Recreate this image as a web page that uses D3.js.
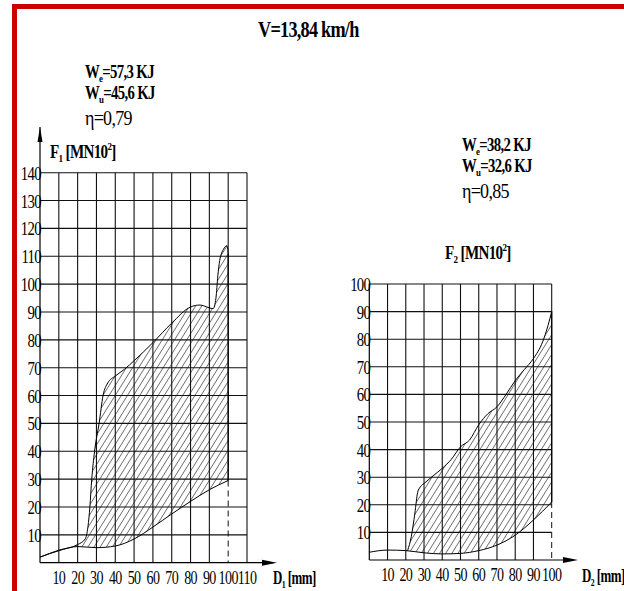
<!DOCTYPE html>
<html>
<head>
<meta charset="utf-8">
<script src="https://cdn.jsdelivr.net/npm/d3@7"></script>
<style>
  body { margin: 0; background: #fff; }
  svg { display: block; }
</style>
</head>
<body>
<div id="chart"></div>
<script>
// ticks
const xTicksL = [10, 20, 30, 40, 50, 60, 70, 80, 90, 100, 110];
const yTicksL = [10, 20, 30, 40, 50, 60, 70, 80, 90, 100, 110, 120, 130, 140];
const xTicksR = [10, 20, 30, 40, 50, 60, 70, 80, 90, 100];
const yTicksR = [10, 20, 30, 40, 50, 60, 70, 80, 90, 100];

// curves F1 (loading / unloading), [D mm, F]
const upperL = [[0, 2], [10, 4.5], [20, 6.5], [24, 8.5], [25.5, 13], [26.5, 20], [27.5, 30], [29, 40],
  [31.4, 50], [33.5, 60], [36, 64.5], [40, 67], [45, 69.5], [50, 72.5], [60, 79], [70, 86], [80, 91.8],
  [85, 92.5], [92, 91.2], [93.5, 95], [94.5, 103], [95.5, 108.5], [97.5, 112.5], [99.3, 113.8], [100, 111]];
const lowerL = [[0, 2], [10, 4.3], [20, 5.8], [30, 5.4], [40, 6], [50, 8.5], [60, 12.8], [70, 17.5],
  [80, 22], [90, 26.2], [100, 29.5]];

// curves F2
const upperR = [[21, 3.4], [23, 8.4], [25, 17], [26.5, 24.5], [28, 26.5], [30.5, 28], [35, 30.5], [40, 33.2],
  [45, 36.5], [50, 41], [55, 43.5], [60, 49], [65, 53], [70, 55.5], [75, 60], [80, 65], [85, 69],
  [90, 73], [95, 79], [98, 85], [100, 90]];
const lowerR = [[0, 2.8], [10, 3.6], [20, 3.4], [30, 2.6], [40, 2.2], [50, 2.4], [60, 3.4], [70, 5.4],
  [80, 9], [90, 14.5], [100, 21]];

const width = 624, height = 591;
const svg = d3.select('#chart').append('svg')
  .attr('width', width)
  .attr('height', height);

const defs = svg.append('defs');
defs.append('pattern')
  .attr('id', 'hatch')
  .attr('patternUnits', 'userSpaceOnUse')
  .attr('width', 5.2).attr('height', 10)
  .attr('patternTransform', 'rotate(32)')
  .append('line')
  .attr('x1', 0).attr('y1', 0).attr('x2', 0).attr('y2', 10)
  .attr('stroke', '#000').attr('stroke-width', 1);

// red frame (only top + left visible)
svg.append('rect')
  .attr('x', 14.5).attr('y', 6.5)
  .attr('width', 700).attr('height', 700)
  .attr('fill', 'none').attr('stroke', '#cc0000').attr('stroke-width', 5);

const FONT = "'Liberation Serif', 'Times New Roman', serif";

function label(x, y, parts, opt) {
  opt = opt || {};
  const size = opt.size || 16;
  const t = svg.append('text')
    .attr('transform', `translate(${x},${y}) scale(${opt.sx || 0.75},1)`)
    .attr('font-family', FONT)
    .attr('font-size', size)
    .attr('font-weight', opt.bold ? 'bold' : 'normal')
    .attr('text-anchor', opt.anchor || 'start')
    .attr('letter-spacing', opt.ls || 0)
    .attr('fill', '#000');
  let dy = 0;
  parts.forEach(p => {
    if (typeof p === 'string') p = { t: p };
    const shift = p.sub ? size * 0.2 : p.sup ? -size * 0.42 : 0;
    t.append('tspan')
      .attr('dy', shift - dy)
      .attr('font-size', p.sub || p.sup ? size * 0.6 : null)
      .text(p.t);
    dy = shift;
  });
  return t;
}

function arrow(pts) {
  svg.append('path')
    .attr('d', 'M' + pts.map(p => p.join(',')).join('L') + 'Z')
    .attr('fill', '#000');
}

function drawChart(opt) {
  const { x, y, xTicks, yTicks, upper, lower, id, xArrowEnd } = opt;
  const g = svg.append('g');
  const x0 = x(0), y0 = y(0);
  const yTop = y(yTicks[yTicks.length - 1]);
  const xEnd = x(xTicks[xTicks.length - 1]);
  const lastLow = lower[lower.length - 1];
  const lastUp = upper[upper.length - 1];

  // hatched area: under upper curve, clipped above lower curve
  const clip = defs.append('clipPath').attr('id', 'clip' + id);
  clip.append('path')
    .attr('d', d3.area().x(d => x(d[0])).y0(d => y(d[1])).y1(yTop - 50)
      .curve(d3.curveMonotoneX)(lower));
  g.append('path')
    .attr('d', d3.area().x(d => x(d[0])).y0(y0).y1(d => y(d[1]))
      .curve(d3.curveMonotoneX)(upper))
    .attr('fill', 'url(#hatch)')
    .attr('clip-path', `url(#clip${id})`);

  // grid
  g.selectAll('.hg').data(yTicks).enter().append('line')
    .attr('x1', x0).attr('x2', xEnd)
    .attr('y1', d => y(d)).attr('y2', d => y(d))
    .attr('stroke', '#111').attr('stroke-width', 1.1);
  g.selectAll('.vg').data(xTicks).enter().append('line')
    .attr('x1', d => x(d)).attr('x2', d => x(d))
    .attr('y1', yTop)
    .attr('y2', d => d === lastLow[0] ? y(lastLow[1]) : y0)
    .attr('stroke', '#111').attr('stroke-width', 1.1);
  // dashed drop line
  g.append('line')
    .attr('x1', x(lastLow[0])).attr('x2', x(lastLow[0]))
    .attr('y1', y(lastLow[1])).attr('y2', y0)
    .attr('stroke', '#111').attr('stroke-width', 1)
    .attr('stroke-dasharray', '6,4');

  // curves
  const line = d3.line().x(d => x(d[0])).y(d => y(d[1])).curve(d3.curveMonotoneX);
  [upper, lower].forEach(c => {
    g.append('path').attr('d', line(c))
      .attr('fill', 'none').attr('stroke', '#000').attr('stroke-width', 1);
  });
  g.append('line')
    .attr('x1', x(lastUp[0])).attr('x2', x(lastUp[0]))
    .attr('y1', y(lastUp[1])).attr('y2', y(lastLow[1]))
    .attr('stroke', '#000').attr('stroke-width', 1.2);

  // axes
  g.append('line').attr('x1', x0).attr('x2', xArrowEnd - 4)
    .attr('y1', y0).attr('y2', y0).attr('stroke', '#000').attr('stroke-width', 1.2);
  arrow([[xArrowEnd, y0], [xArrowEnd - 15, y0 - 3], [xArrowEnd - 15, y0 + 3]]);
  const yAxTop = opt.yArrowEnd || yTop;
  g.append('line').attr('x1', x0).attr('x2', x0)
    .attr('y1', y0).attr('y2', yAxTop).attr('stroke', '#000').attr('stroke-width', 1.2);
  if (opt.yArrowEnd) arrow([[x0, yAxTop], [x0 - 2.5, yAxTop + 15], [x0 + 2.5, yAxTop + 15]]);

  // tick labels
  xTicks.forEach(d => label(x(d), y0 + 21, [String(d)], { anchor: 'middle', size: 18, sx: 0.78, ls: -0.8 }));
  yTicks.forEach(d => label(x0 + 1, y(d) + 7, [String(d)], { anchor: 'end', size: 18, sx: 0.82, ls: -0.8 }));
}

const xL = d3.scaleLinear().domain([0, 110]).range([40, 247]);
const yL = d3.scaleLinear().domain([0, 140]).range([562.7, 172.7]);
const xR = d3.scaleLinear().domain([0, 100]).range([369.3, 551.7]);
const yR = d3.scaleLinear().domain([0, 100]).range([560, 284]);

drawChart({ id: 'L', x: xL, y: yL, xTicks: xTicksL, yTicks: yTicksL, upper: upperL, lower: lowerL,
  xArrowEnd: 277, yArrowEnd: 127 });
drawChart({ id: 'R', x: xR, y: yR, xTicks: xTicksR, yTicks: yTicksR, upper: upperR, lower: lowerR,
  xArrowEnd: 578 });

// texts
label(258, 37, ['V=13,84 km/h'], { bold: true, size: 24, sx: 0.76, ls: -1 });

label(85, 78, ['W', { t: 'e', sub: true }, '=57,3 KJ'], { bold: true, size: 18, sx: 0.82, ls: -0.8 });
label(85, 99, ['W', { t: 'u', sub: true }, '=45,6 KJ'], { bold: true, size: 18, sx: 0.82, ls: -0.8 });
label(85, 125, ['η=0,79'], { size: 20, sx: 0.9, ls: -0.8 });
label(50, 158, ['F', { t: '1', sub: true }, ' [MN10', { t: '2', sup: true }, ']'], { bold: true, size: 18, sx: 0.84, ls: -0.8 });
label(273, 584, ['D', { t: '1', sub: true }, ' [mm]'], { bold: true, size: 18, sx: 0.72, ls: -0.8 });

label(462, 151, ['W', { t: 'e', sub: true }, '=38,2 KJ'], { bold: true, size: 18, sx: 0.82, ls: -0.8 });
label(462, 172, ['W', { t: 'u', sub: true }, '=32,6 KJ'], { bold: true, size: 18, sx: 0.82, ls: -0.8 });
label(462, 198, ['η=0,85'], { size: 20, sx: 0.9, ls: -0.8 });
label(445, 259, ['F', { t: '2', sub: true }, ' [MN10', { t: '2', sup: true }, ']'], { bold: true, size: 18, sx: 0.84, ls: -0.8 });
label(582, 582, ['D', { t: '2', sub: true }, ' [mm]'], { bold: true, size: 18, sx: 0.72, ls: -0.8 });
</script>
</body>
</html>
